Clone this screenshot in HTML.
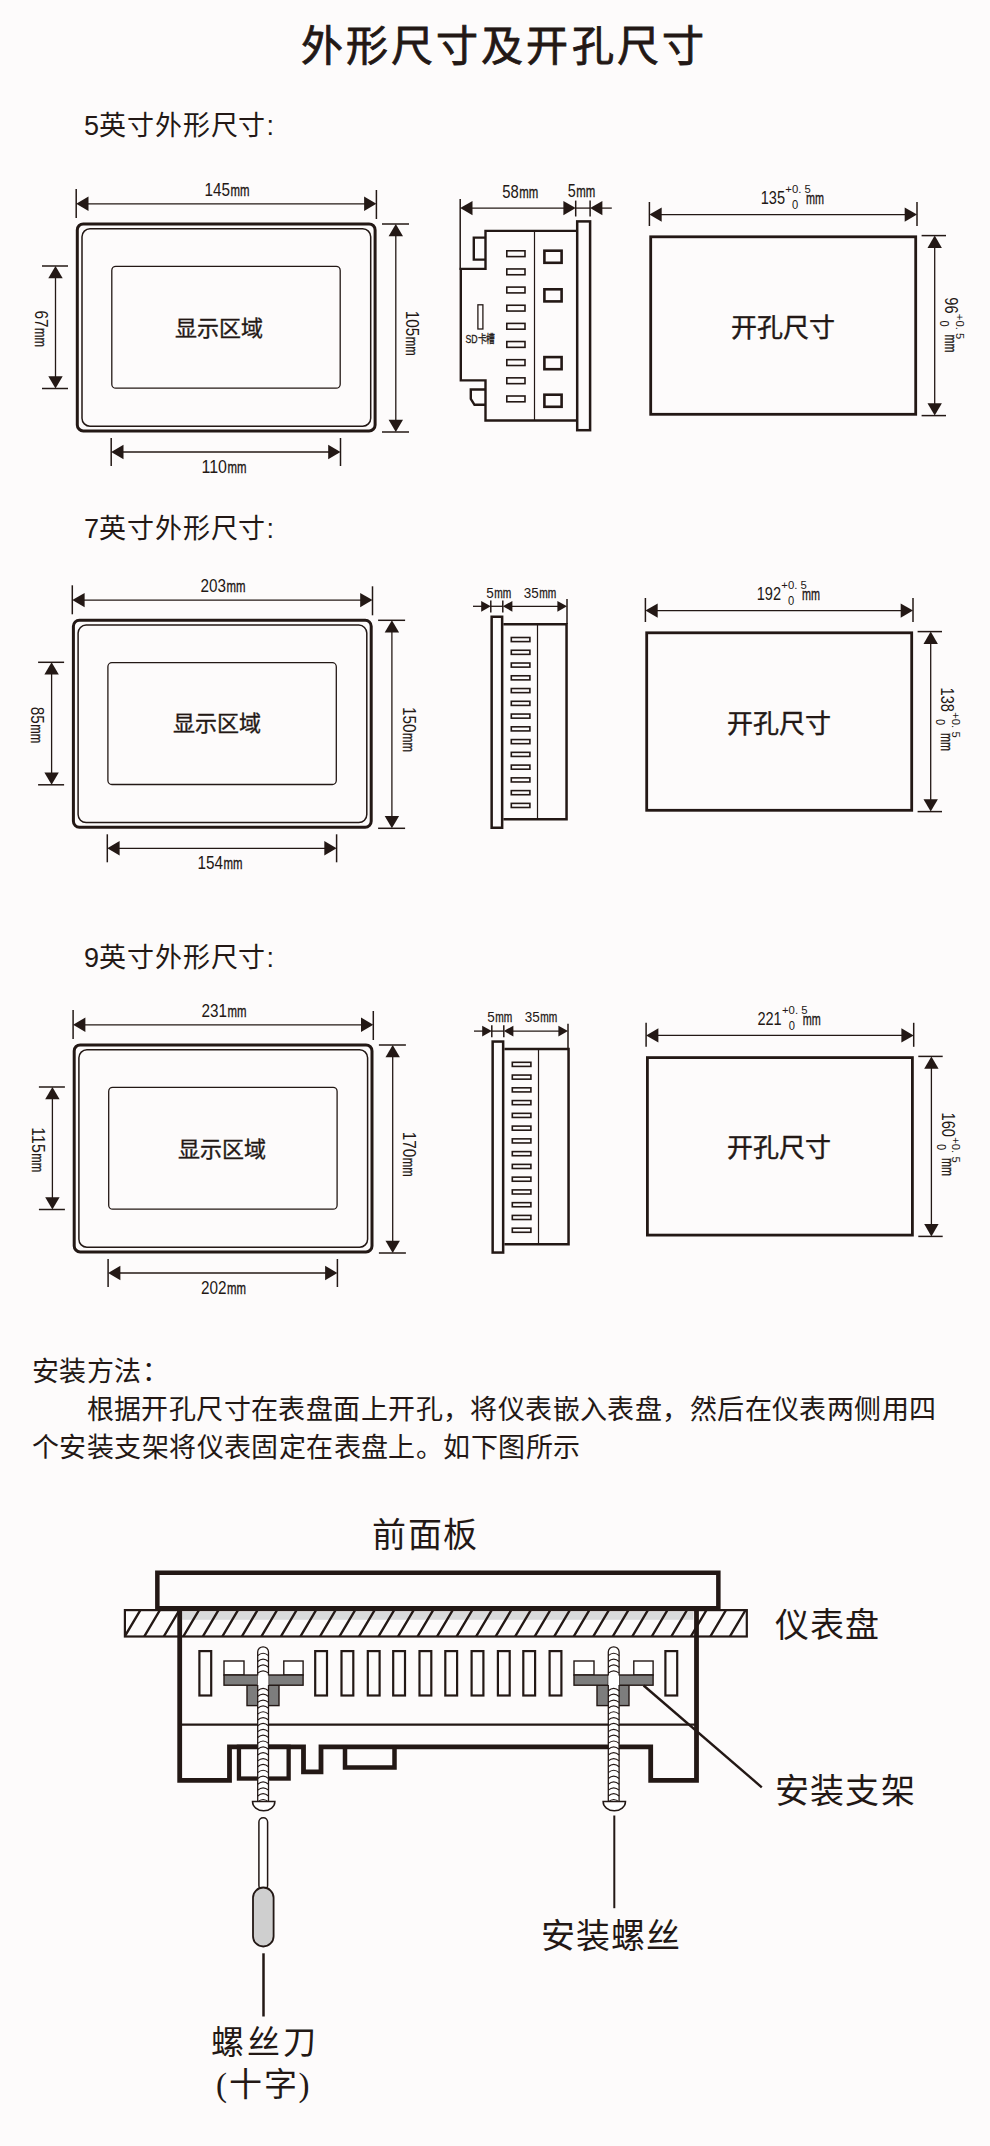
<!DOCTYPE html>
<html lang="zh-CN"><head><meta charset="utf-8"><style>
html,body{margin:0;padding:0;background:#fdfbfb;}
svg{display:block;}
</style></head><body>
<svg width="990" height="2146" viewBox="0 0 990 2146" stroke="#231815" fill="none">
<rect x="0" y="0" width="990" height="2146" fill="#fdfbfb" stroke="none"/>
<text x="300.50" y="60.50" font-size="42" text-anchor="start" font-weight="normal" font-family="Liberation Sans, sans-serif" fill="#231815"  letter-spacing="3.2" stroke="#231815" stroke-width="0.8">外形尺寸及开孔尺寸</text>
<text x="84.00" y="135.00" font-size="27" text-anchor="start" font-weight="normal" font-family="Liberation Sans, sans-serif" fill="#231815" stroke="none" >5</text>
<text x="99.00" y="135.00" font-size="27" text-anchor="start" font-weight="normal" font-family="Liberation Sans, sans-serif" fill="#231815" stroke="none" letter-spacing="0.9">英寸外形尺寸</text>
<text x="266.50" y="135.00" font-size="27" text-anchor="start" font-weight="normal" font-family="Liberation Sans, sans-serif" fill="#231815" stroke="none" >:</text>
<text x="84.00" y="538.00" font-size="27" text-anchor="start" font-weight="normal" font-family="Liberation Sans, sans-serif" fill="#231815" stroke="none" >7</text>
<text x="99.00" y="538.00" font-size="27" text-anchor="start" font-weight="normal" font-family="Liberation Sans, sans-serif" fill="#231815" stroke="none" letter-spacing="0.9">英寸外形尺寸</text>
<text x="266.50" y="538.00" font-size="27" text-anchor="start" font-weight="normal" font-family="Liberation Sans, sans-serif" fill="#231815" stroke="none" >:</text>
<text x="84.00" y="967.00" font-size="27" text-anchor="start" font-weight="normal" font-family="Liberation Sans, sans-serif" fill="#231815" stroke="none" >9</text>
<text x="99.00" y="967.00" font-size="27" text-anchor="start" font-weight="normal" font-family="Liberation Sans, sans-serif" fill="#231815" stroke="none" letter-spacing="0.9">英寸外形尺寸</text>
<text x="266.50" y="967.00" font-size="27" text-anchor="start" font-weight="normal" font-family="Liberation Sans, sans-serif" fill="#231815" stroke="none" >:</text>
<line x1="76.20" y1="189.00" x2="76.20" y2="218.00" stroke-width="1.5"/>
<line x1="376.40" y1="190.00" x2="376.40" y2="219.00" stroke-width="1.5"/>
<line x1="82.20" y1="203.80" x2="370.40" y2="203.80" stroke-width="1.3"/>
<polygon fill="#231815" stroke="none" points="76.20,203.80 88.50,196.60 88.50,211.00"/>
<polygon fill="#231815" stroke="none" points="376.40,203.80 364.10,196.60 364.10,211.00"/>
<g transform="translate(227.00,195.60)" fill="#231815" stroke="none" font-family="Liberation Sans, sans-serif"><text x="-22.50" y="0" font-size="17.6" textLength="25.50" lengthAdjust="spacingAndGlyphs">145</text><text x="3.50" y="0" font-size="16.5" stroke="#231815" stroke-width="0.35" textLength="19.00" lengthAdjust="spacingAndGlyphs">mm</text></g>
<rect x="77.30" y="223.90" width="297.80" height="207.00" rx="6" stroke-width="3" fill="none"/>
<rect x="82.00" y="228.80" width="288.70" height="197.40" rx="8" stroke-width="1.5" fill="none"/>
<rect x="111.80" y="266.40" width="228.40" height="121.80" rx="4" stroke-width="1.3" fill="none"/>
<line x1="382.00" y1="224.00" x2="409.00" y2="224.00" stroke-width="1.5"/>
<line x1="382.00" y1="432.00" x2="409.00" y2="432.00" stroke-width="1.5"/>
<line x1="395.80" y1="230.00" x2="395.80" y2="426.00" stroke-width="1.3"/>
<polygon fill="#231815" stroke="none" points="395.80,224.00 388.60,236.30 403.00,236.30"/>
<polygon fill="#231815" stroke="none" points="395.80,432.00 388.60,419.70 403.00,419.70"/>
<g transform="translate(406.40,333.20) rotate(90)" fill="#231815" stroke="none" font-family="Liberation Sans, sans-serif"><text x="-22.50" y="0" font-size="17.6" textLength="25.50" lengthAdjust="spacingAndGlyphs">105</text><text x="3.50" y="0" font-size="16.5" stroke="#231815" stroke-width="0.35" textLength="19.00" lengthAdjust="spacingAndGlyphs">mm</text></g>
<line x1="42.00" y1="266.00" x2="68.00" y2="266.00" stroke-width="1.5"/>
<line x1="42.00" y1="388.50" x2="68.00" y2="388.50" stroke-width="1.5"/>
<line x1="55.50" y1="272.00" x2="55.50" y2="382.50" stroke-width="1.3"/>
<polygon fill="#231815" stroke="none" points="55.50,266.00 48.30,278.30 62.70,278.30"/>
<polygon fill="#231815" stroke="none" points="55.50,388.50 48.30,376.20 62.70,376.20"/>
<g transform="translate(35.00,328.80) rotate(90)" fill="#231815" stroke="none" font-family="Liberation Sans, sans-serif"><text x="-18.25" y="0" font-size="17.6" textLength="17.00" lengthAdjust="spacingAndGlyphs">67</text><text x="-0.75" y="0" font-size="16.5" stroke="#231815" stroke-width="0.35" textLength="19.00" lengthAdjust="spacingAndGlyphs">mm</text></g>
<line x1="111.20" y1="438.00" x2="111.20" y2="466.00" stroke-width="1.5"/>
<line x1="340.50" y1="438.00" x2="340.50" y2="466.00" stroke-width="1.5"/>
<line x1="117.20" y1="452.00" x2="334.50" y2="452.00" stroke-width="1.3"/>
<polygon fill="#231815" stroke="none" points="111.20,452.00 123.50,444.80 123.50,459.20"/>
<polygon fill="#231815" stroke="none" points="340.50,452.00 328.20,444.80 328.20,459.20"/>
<g transform="translate(224.00,472.80)" fill="#231815" stroke="none" font-family="Liberation Sans, sans-serif"><text x="-22.50" y="0" font-size="17.6" textLength="25.50" lengthAdjust="spacingAndGlyphs">110</text><text x="3.50" y="0" font-size="16.5" stroke="#231815" stroke-width="0.35" textLength="19.00" lengthAdjust="spacingAndGlyphs">mm</text></g>
<text x="218.50" y="336.00" font-size="22" text-anchor="middle" font-weight="normal" font-family="Liberation Serif, serif" fill="#231815"  stroke="#231815" stroke-width="0.35">显示区域</text>
<line x1="72.30" y1="585.30" x2="72.30" y2="614.30" stroke-width="1.5"/>
<line x1="372.50" y1="586.30" x2="372.50" y2="615.30" stroke-width="1.5"/>
<line x1="78.30" y1="600.10" x2="366.50" y2="600.10" stroke-width="1.3"/>
<polygon fill="#231815" stroke="none" points="72.30,600.10 84.60,592.90 84.60,607.30"/>
<polygon fill="#231815" stroke="none" points="372.50,600.10 360.20,592.90 360.20,607.30"/>
<g transform="translate(223.10,591.90)" fill="#231815" stroke="none" font-family="Liberation Sans, sans-serif"><text x="-22.50" y="0" font-size="17.6" textLength="25.50" lengthAdjust="spacingAndGlyphs">203</text><text x="3.50" y="0" font-size="16.5" stroke="#231815" stroke-width="0.35" textLength="19.00" lengthAdjust="spacingAndGlyphs">mm</text></g>
<rect x="73.40" y="620.20" width="297.80" height="207.00" rx="6" stroke-width="3" fill="none"/>
<rect x="78.10" y="625.10" width="288.70" height="197.40" rx="8" stroke-width="1.5" fill="none"/>
<rect x="107.90" y="662.70" width="228.40" height="121.80" rx="4" stroke-width="1.3" fill="none"/>
<line x1="378.10" y1="620.30" x2="405.10" y2="620.30" stroke-width="1.5"/>
<line x1="378.10" y1="828.30" x2="405.10" y2="828.30" stroke-width="1.5"/>
<line x1="391.90" y1="626.30" x2="391.90" y2="822.30" stroke-width="1.3"/>
<polygon fill="#231815" stroke="none" points="391.90,620.30 384.70,632.60 399.10,632.60"/>
<polygon fill="#231815" stroke="none" points="391.90,828.30 384.70,816.00 399.10,816.00"/>
<g transform="translate(402.50,729.50) rotate(90)" fill="#231815" stroke="none" font-family="Liberation Sans, sans-serif"><text x="-22.50" y="0" font-size="17.6" textLength="25.50" lengthAdjust="spacingAndGlyphs">150</text><text x="3.50" y="0" font-size="16.5" stroke="#231815" stroke-width="0.35" textLength="19.00" lengthAdjust="spacingAndGlyphs">mm</text></g>
<line x1="38.10" y1="662.30" x2="64.10" y2="662.30" stroke-width="1.5"/>
<line x1="38.10" y1="784.80" x2="64.10" y2="784.80" stroke-width="1.5"/>
<line x1="51.60" y1="668.30" x2="51.60" y2="778.80" stroke-width="1.3"/>
<polygon fill="#231815" stroke="none" points="51.60,662.30 44.40,674.60 58.80,674.60"/>
<polygon fill="#231815" stroke="none" points="51.60,784.80 44.40,772.50 58.80,772.50"/>
<g transform="translate(31.10,725.10) rotate(90)" fill="#231815" stroke="none" font-family="Liberation Sans, sans-serif"><text x="-18.25" y="0" font-size="17.6" textLength="17.00" lengthAdjust="spacingAndGlyphs">85</text><text x="-0.75" y="0" font-size="16.5" stroke="#231815" stroke-width="0.35" textLength="19.00" lengthAdjust="spacingAndGlyphs">mm</text></g>
<line x1="107.30" y1="834.30" x2="107.30" y2="862.30" stroke-width="1.5"/>
<line x1="336.60" y1="834.30" x2="336.60" y2="862.30" stroke-width="1.5"/>
<line x1="113.30" y1="848.30" x2="330.60" y2="848.30" stroke-width="1.3"/>
<polygon fill="#231815" stroke="none" points="107.30,848.30 119.60,841.10 119.60,855.50"/>
<polygon fill="#231815" stroke="none" points="336.60,848.30 324.30,841.10 324.30,855.50"/>
<g transform="translate(220.10,869.10)" fill="#231815" stroke="none" font-family="Liberation Sans, sans-serif"><text x="-22.50" y="0" font-size="17.6" textLength="25.50" lengthAdjust="spacingAndGlyphs">154</text><text x="3.50" y="0" font-size="16.5" stroke="#231815" stroke-width="0.35" textLength="19.00" lengthAdjust="spacingAndGlyphs">mm</text></g>
<text x="216.50" y="730.80" font-size="22" text-anchor="middle" font-weight="normal" font-family="Liberation Serif, serif" fill="#231815"  stroke="#231815" stroke-width="0.35">显示区域</text>
<line x1="73.10" y1="1010.00" x2="73.10" y2="1039.00" stroke-width="1.5"/>
<line x1="373.30" y1="1011.00" x2="373.30" y2="1040.00" stroke-width="1.5"/>
<line x1="79.10" y1="1024.80" x2="367.30" y2="1024.80" stroke-width="1.3"/>
<polygon fill="#231815" stroke="none" points="73.10,1024.80 85.40,1017.60 85.40,1032.00"/>
<polygon fill="#231815" stroke="none" points="373.30,1024.80 361.00,1017.60 361.00,1032.00"/>
<g transform="translate(223.90,1016.60)" fill="#231815" stroke="none" font-family="Liberation Sans, sans-serif"><text x="-22.50" y="0" font-size="17.6" textLength="25.50" lengthAdjust="spacingAndGlyphs">231</text><text x="3.50" y="0" font-size="16.5" stroke="#231815" stroke-width="0.35" textLength="19.00" lengthAdjust="spacingAndGlyphs">mm</text></g>
<rect x="74.20" y="1044.90" width="297.80" height="207.00" rx="6" stroke-width="3" fill="none"/>
<rect x="78.90" y="1049.80" width="288.70" height="197.40" rx="8" stroke-width="1.5" fill="none"/>
<rect x="108.70" y="1087.40" width="228.40" height="121.80" rx="4" stroke-width="1.3" fill="none"/>
<line x1="378.90" y1="1045.00" x2="405.90" y2="1045.00" stroke-width="1.5"/>
<line x1="378.90" y1="1253.00" x2="405.90" y2="1253.00" stroke-width="1.5"/>
<line x1="392.70" y1="1051.00" x2="392.70" y2="1247.00" stroke-width="1.3"/>
<polygon fill="#231815" stroke="none" points="392.70,1045.00 385.50,1057.30 399.90,1057.30"/>
<polygon fill="#231815" stroke="none" points="392.70,1253.00 385.50,1240.70 399.90,1240.70"/>
<g transform="translate(403.30,1154.20) rotate(90)" fill="#231815" stroke="none" font-family="Liberation Sans, sans-serif"><text x="-22.50" y="0" font-size="17.6" textLength="25.50" lengthAdjust="spacingAndGlyphs">170</text><text x="3.50" y="0" font-size="16.5" stroke="#231815" stroke-width="0.35" textLength="19.00" lengthAdjust="spacingAndGlyphs">mm</text></g>
<line x1="38.90" y1="1087.00" x2="64.90" y2="1087.00" stroke-width="1.5"/>
<line x1="38.90" y1="1209.50" x2="64.90" y2="1209.50" stroke-width="1.5"/>
<line x1="52.40" y1="1093.00" x2="52.40" y2="1203.50" stroke-width="1.3"/>
<polygon fill="#231815" stroke="none" points="52.40,1087.00 45.20,1099.30 59.60,1099.30"/>
<polygon fill="#231815" stroke="none" points="52.40,1209.50 45.20,1197.20 59.60,1197.20"/>
<g transform="translate(31.90,1149.80) rotate(90)" fill="#231815" stroke="none" font-family="Liberation Sans, sans-serif"><text x="-22.50" y="0" font-size="17.6" textLength="25.50" lengthAdjust="spacingAndGlyphs">115</text><text x="3.50" y="0" font-size="16.5" stroke="#231815" stroke-width="0.35" textLength="19.00" lengthAdjust="spacingAndGlyphs">mm</text></g>
<line x1="108.10" y1="1259.00" x2="108.10" y2="1287.00" stroke-width="1.5"/>
<line x1="337.40" y1="1259.00" x2="337.40" y2="1287.00" stroke-width="1.5"/>
<line x1="114.10" y1="1273.00" x2="331.40" y2="1273.00" stroke-width="1.3"/>
<polygon fill="#231815" stroke="none" points="108.10,1273.00 120.40,1265.80 120.40,1280.20"/>
<polygon fill="#231815" stroke="none" points="337.40,1273.00 325.10,1265.80 325.10,1280.20"/>
<g transform="translate(223.40,1293.80)" fill="#231815" stroke="none" font-family="Liberation Sans, sans-serif"><text x="-22.50" y="0" font-size="17.6" textLength="25.50" lengthAdjust="spacingAndGlyphs">202</text><text x="3.50" y="0" font-size="16.5" stroke="#231815" stroke-width="0.35" textLength="19.00" lengthAdjust="spacingAndGlyphs">mm</text></g>
<text x="221.60" y="1157.00" font-size="22" text-anchor="middle" font-weight="normal" font-family="Liberation Serif, serif" fill="#231815"  stroke="#231815" stroke-width="0.35">显示区域</text>
<rect x="650.70" y="236.80" width="265.00" height="177.50" rx="0" stroke-width="2.8" fill="none"/>
<line x1="649.40" y1="202.00" x2="649.40" y2="226.00" stroke-width="1.5"/>
<line x1="917.00" y1="202.00" x2="917.00" y2="226.00" stroke-width="1.5"/>
<line x1="655.40" y1="214.60" x2="911.00" y2="214.60" stroke-width="1.3"/>
<polygon fill="#231815" stroke="none" points="649.40,214.60 661.70,207.40 661.70,221.80"/>
<polygon fill="#231815" stroke="none" points="917.00,214.60 904.70,207.40 904.70,221.80"/>
<g transform="translate(760.70,203.80)" fill="#231815" stroke="none" font-family="Liberation Sans, sans-serif"><text x="0" y="0" font-size="17.6" textLength="24.30" lengthAdjust="spacingAndGlyphs">135</text><text x="24.60" y="-10.5" font-size="11" textLength="25.5" lengthAdjust="spacingAndGlyphs">+0. 5</text><text x="31.30" y="5" font-size="12.5" textLength="6.2" lengthAdjust="spacingAndGlyphs">0</text><text x="45.30" y="0" font-size="16.5" stroke="#231815" stroke-width="0.35" textLength="18" lengthAdjust="spacingAndGlyphs">mm</text></g>
<line x1="921.60" y1="235.60" x2="946.00" y2="235.60" stroke-width="1.5"/>
<line x1="921.60" y1="415.60" x2="946.00" y2="415.60" stroke-width="1.5"/>
<line x1="934.70" y1="241.60" x2="934.70" y2="409.60" stroke-width="1.3"/>
<polygon fill="#231815" stroke="none" points="934.70,235.60 927.50,247.90 941.90,247.90"/>
<polygon fill="#231815" stroke="none" points="934.70,415.60 927.50,403.30 941.90,403.30"/>
<g transform="translate(945.00,297.30) rotate(90)" fill="#231815" stroke="none" font-family="Liberation Sans, sans-serif"><text x="0" y="0" font-size="17.6" textLength="16.20" lengthAdjust="spacingAndGlyphs">96</text><text x="16.50" y="-10.5" font-size="11" textLength="25.5" lengthAdjust="spacingAndGlyphs">+0. 5</text><text x="23.20" y="5" font-size="12.5" textLength="6.2" lengthAdjust="spacingAndGlyphs">0</text><text x="37.20" y="0" font-size="16.5" stroke="#231815" stroke-width="0.35" textLength="18" lengthAdjust="spacingAndGlyphs">mm</text></g>
<text x="782.50" y="336.50" font-size="26" text-anchor="middle" font-weight="normal" font-family="Liberation Serif, serif" fill="#231815"  stroke="#231815" stroke-width="0.4">开孔尺寸</text>
<rect x="646.70" y="632.80" width="265.00" height="177.50" rx="0" stroke-width="2.8" fill="none"/>
<line x1="645.40" y1="598.00" x2="645.40" y2="622.00" stroke-width="1.5"/>
<line x1="913.00" y1="598.00" x2="913.00" y2="622.00" stroke-width="1.5"/>
<line x1="651.40" y1="610.60" x2="907.00" y2="610.60" stroke-width="1.3"/>
<polygon fill="#231815" stroke="none" points="645.40,610.60 657.70,603.40 657.70,617.80"/>
<polygon fill="#231815" stroke="none" points="913.00,610.60 900.70,603.40 900.70,617.80"/>
<g transform="translate(756.70,599.80)" fill="#231815" stroke="none" font-family="Liberation Sans, sans-serif"><text x="0" y="0" font-size="17.6" textLength="24.30" lengthAdjust="spacingAndGlyphs">192</text><text x="24.60" y="-10.5" font-size="11" textLength="25.5" lengthAdjust="spacingAndGlyphs">+0. 5</text><text x="31.30" y="5" font-size="12.5" textLength="6.2" lengthAdjust="spacingAndGlyphs">0</text><text x="45.30" y="0" font-size="16.5" stroke="#231815" stroke-width="0.35" textLength="18" lengthAdjust="spacingAndGlyphs">mm</text></g>
<line x1="917.60" y1="631.60" x2="942.00" y2="631.60" stroke-width="1.5"/>
<line x1="917.60" y1="811.60" x2="942.00" y2="811.60" stroke-width="1.5"/>
<line x1="930.70" y1="637.60" x2="930.70" y2="805.60" stroke-width="1.3"/>
<polygon fill="#231815" stroke="none" points="930.70,631.60 923.50,643.90 937.90,643.90"/>
<polygon fill="#231815" stroke="none" points="930.70,811.60 923.50,799.30 937.90,799.30"/>
<g transform="translate(941.00,687.60) rotate(90)" fill="#231815" stroke="none" font-family="Liberation Sans, sans-serif"><text x="0" y="0" font-size="17.6" textLength="24.30" lengthAdjust="spacingAndGlyphs">138</text><text x="24.60" y="-10.5" font-size="11" textLength="25.5" lengthAdjust="spacingAndGlyphs">+0. 5</text><text x="31.30" y="5" font-size="12.5" textLength="6.2" lengthAdjust="spacingAndGlyphs">0</text><text x="45.30" y="0" font-size="16.5" stroke="#231815" stroke-width="0.35" textLength="18" lengthAdjust="spacingAndGlyphs">mm</text></g>
<text x="778.50" y="732.50" font-size="26" text-anchor="middle" font-weight="normal" font-family="Liberation Serif, serif" fill="#231815"  stroke="#231815" stroke-width="0.4">开孔尺寸</text>
<rect x="647.40" y="1057.60" width="265.00" height="177.50" rx="0" stroke-width="2.8" fill="none"/>
<line x1="646.10" y1="1022.80" x2="646.10" y2="1046.80" stroke-width="1.5"/>
<line x1="913.70" y1="1022.80" x2="913.70" y2="1046.80" stroke-width="1.5"/>
<line x1="652.10" y1="1035.40" x2="907.70" y2="1035.40" stroke-width="1.3"/>
<polygon fill="#231815" stroke="none" points="646.10,1035.40 658.40,1028.20 658.40,1042.60"/>
<polygon fill="#231815" stroke="none" points="913.70,1035.40 901.40,1028.20 901.40,1042.60"/>
<g transform="translate(757.40,1024.60)" fill="#231815" stroke="none" font-family="Liberation Sans, sans-serif"><text x="0" y="0" font-size="17.6" textLength="24.30" lengthAdjust="spacingAndGlyphs">221</text><text x="24.60" y="-10.5" font-size="11" textLength="25.5" lengthAdjust="spacingAndGlyphs">+0. 5</text><text x="31.30" y="5" font-size="12.5" textLength="6.2" lengthAdjust="spacingAndGlyphs">0</text><text x="45.30" y="0" font-size="16.5" stroke="#231815" stroke-width="0.35" textLength="18" lengthAdjust="spacingAndGlyphs">mm</text></g>
<line x1="918.30" y1="1056.40" x2="942.70" y2="1056.40" stroke-width="1.5"/>
<line x1="918.30" y1="1236.40" x2="942.70" y2="1236.40" stroke-width="1.5"/>
<line x1="931.40" y1="1062.40" x2="931.40" y2="1230.40" stroke-width="1.3"/>
<polygon fill="#231815" stroke="none" points="931.40,1056.40 924.20,1068.70 938.60,1068.70"/>
<polygon fill="#231815" stroke="none" points="931.40,1236.40 924.20,1224.10 938.60,1224.10"/>
<g transform="translate(941.70,1112.60) rotate(90)" fill="#231815" stroke="none" font-family="Liberation Sans, sans-serif"><text x="0" y="0" font-size="17.6" textLength="24.30" lengthAdjust="spacingAndGlyphs">160</text><text x="24.60" y="-10.5" font-size="11" textLength="25.5" lengthAdjust="spacingAndGlyphs">+0. 5</text><text x="31.30" y="5" font-size="12.5" textLength="6.2" lengthAdjust="spacingAndGlyphs">0</text><text x="45.30" y="0" font-size="16.5" stroke="#231815" stroke-width="0.35" textLength="18" lengthAdjust="spacingAndGlyphs">mm</text></g>
<text x="779.20" y="1157.30" font-size="26" text-anchor="middle" font-weight="normal" font-family="Liberation Serif, serif" fill="#231815"  stroke="#231815" stroke-width="0.4">开孔尺寸</text>
<line x1="460.20" y1="199.00" x2="460.20" y2="270.00" stroke-width="1.5"/>
<line x1="466.20" y1="208.10" x2="569.70" y2="208.10" stroke-width="1.3"/>
<polygon fill="#231815" stroke="none" points="460.20,208.10 472.50,200.90 472.50,215.30"/>
<polygon fill="#231815" stroke="none" points="575.70,208.10 563.40,200.90 563.40,215.30"/>
<line x1="575.70" y1="200.60" x2="575.70" y2="216.50" stroke-width="1.5"/>
<line x1="590.10" y1="200.60" x2="590.10" y2="216.50" stroke-width="1.5"/>
<line x1="575.70" y1="208.10" x2="590.10" y2="208.10" stroke-width="1.3"/>
<polygon fill="#231815" stroke="none" points="590.10,208.10 602.40,200.90 602.40,215.30"/>
<line x1="596.00" y1="208.10" x2="611.80" y2="208.10" stroke-width="1.3"/>
<g transform="translate(520.30,198.00)" fill="#231815" stroke="none" font-family="Liberation Sans, sans-serif"><text x="-18.00" y="0" font-size="17.6" textLength="16.50" lengthAdjust="spacingAndGlyphs">58</text><text x="-1.00" y="0" font-size="16.5" stroke="#231815" stroke-width="0.35" textLength="19.00" lengthAdjust="spacingAndGlyphs">mm</text></g>
<g transform="translate(581.50,197.40)" fill="#231815" stroke="none" font-family="Liberation Sans, sans-serif"><text x="-13.75" y="0" font-size="17.6" textLength="8.00" lengthAdjust="spacingAndGlyphs">5</text><text x="-5.25" y="0" font-size="16.5" stroke="#231815" stroke-width="0.35" textLength="19.00" lengthAdjust="spacingAndGlyphs">mm</text></g>
<path d="M576.5 230.9 L485.5 230.9 L485.5 268.9 L460.8 268.9 L460.8 380.4 L485.5 380.4 L485.5 420.5 L576.5 420.5" stroke-width="2.4"/>
<path d="M485.5 237.6 L473.8 237.6 L473.8 259.6 L485.5 259.6" stroke-width="2.4"/>
<path d="M485.5 389.5 L470.8 389.5 L470.8 398.8 L474.5 404.8 L485.5 404.8" stroke-width="2.4"/>
<rect x="577.20" y="221.40" width="12.90" height="208.80" rx="0" stroke-width="2.5" fill="none"/>
<line x1="534.50" y1="230.90" x2="534.50" y2="420.50" stroke-width="1.2"/>
<rect x="506.80" y="250.80" width="18.20" height="5.80" rx="0" stroke-width="1.6" fill="none"/>
<rect x="506.80" y="268.95" width="18.20" height="5.80" rx="0" stroke-width="1.6" fill="none"/>
<rect x="506.80" y="287.10" width="18.20" height="5.80" rx="0" stroke-width="1.6" fill="none"/>
<rect x="506.80" y="305.25" width="18.20" height="5.80" rx="0" stroke-width="1.6" fill="none"/>
<rect x="506.80" y="323.40" width="18.20" height="5.80" rx="0" stroke-width="1.6" fill="none"/>
<rect x="506.80" y="341.55" width="18.20" height="5.80" rx="0" stroke-width="1.6" fill="none"/>
<rect x="506.80" y="359.70" width="18.20" height="5.80" rx="0" stroke-width="1.6" fill="none"/>
<rect x="506.80" y="377.85" width="18.20" height="5.80" rx="0" stroke-width="1.6" fill="none"/>
<rect x="506.80" y="396.00" width="18.20" height="5.80" rx="0" stroke-width="1.6" fill="none"/>
<rect x="544.40" y="250.70" width="17.20" height="12.10" rx="0" stroke-width="2.6" fill="none"/>
<rect x="544.40" y="289.30" width="17.20" height="12.10" rx="0" stroke-width="2.6" fill="none"/>
<rect x="544.40" y="357.10" width="17.20" height="12.10" rx="0" stroke-width="2.6" fill="none"/>
<rect x="544.40" y="394.70" width="17.20" height="12.10" rx="0" stroke-width="2.6" fill="none"/>
<rect x="477.90" y="304.80" width="5.00" height="24.20" rx="0" stroke-width="1.3" fill="none"/>
<text x="480.4" y="343.2" font-size="11.8" text-anchor="middle" font-family="Liberation Sans, sans-serif" fill="#231815" stroke="#231815" stroke-width="0.3" textLength="30" lengthAdjust="spacingAndGlyphs">SD卡槽</text>
<line x1="473.00" y1="606.30" x2="484.80" y2="606.30" stroke-width="1.3"/>
<polygon fill="#231815" stroke="none" points="490.80,606.30 481.20,600.90 481.20,611.70"/>
<line x1="490.80" y1="600.40" x2="490.80" y2="612.40" stroke-width="1.5"/>
<line x1="502.80" y1="600.40" x2="502.80" y2="612.40" stroke-width="1.5"/>
<line x1="490.80" y1="606.30" x2="502.80" y2="606.30" stroke-width="1.3"/>
<line x1="508.80" y1="606.30" x2="561.00" y2="606.30" stroke-width="1.3"/>
<polygon fill="#231815" stroke="none" points="502.80,606.30 512.40,600.90 512.40,611.70"/>
<polygon fill="#231815" stroke="none" points="567.00,606.30 557.40,600.90 557.40,611.70"/>
<line x1="567.00" y1="599.00" x2="567.00" y2="624.00" stroke-width="1.5"/>
<g transform="translate(498.70,597.60)" fill="#231815" stroke="none" font-family="Liberation Sans, sans-serif"><text x="-12.50" y="0" font-size="15.2" textLength="7.50" lengthAdjust="spacingAndGlyphs">5</text><text x="-4.50" y="0" font-size="14.5" stroke="#231815" stroke-width="0.35" textLength="17.00" lengthAdjust="spacingAndGlyphs">mm</text></g>
<g transform="translate(540.00,597.60)" fill="#231815" stroke="none" font-family="Liberation Sans, sans-serif"><text x="-16.25" y="0" font-size="15.2" textLength="15.00" lengthAdjust="spacingAndGlyphs">35</text><text x="-0.75" y="0" font-size="14.5" stroke="#231815" stroke-width="0.35" textLength="17.00" lengthAdjust="spacingAndGlyphs">mm</text></g>
<rect x="491.65" y="616.75" width="10.50" height="211.00" rx="0" stroke-width="2.5" fill="none"/>
<path d="M503.4 624.25 L566.55 624.25 L566.55 819.35 L503.4 819.35" transform="translate(0,0)" stroke-width="2.5"/>
<line x1="537.50" y1="624.25" x2="537.50" y2="819.35" stroke-width="1.2"/>
<rect x="511.30" y="637.50" width="18.60" height="4.10" rx="0" stroke-width="1.6" fill="none"/>
<rect x="511.30" y="650.26" width="18.60" height="4.10" rx="0" stroke-width="1.6" fill="none"/>
<rect x="511.30" y="663.02" width="18.60" height="4.10" rx="0" stroke-width="1.6" fill="none"/>
<rect x="511.30" y="675.78" width="18.60" height="4.10" rx="0" stroke-width="1.6" fill="none"/>
<rect x="511.30" y="688.54" width="18.60" height="4.10" rx="0" stroke-width="1.6" fill="none"/>
<rect x="511.30" y="701.30" width="18.60" height="4.10" rx="0" stroke-width="1.6" fill="none"/>
<rect x="511.30" y="714.06" width="18.60" height="4.10" rx="0" stroke-width="1.6" fill="none"/>
<rect x="511.30" y="726.82" width="18.60" height="4.10" rx="0" stroke-width="1.6" fill="none"/>
<rect x="511.30" y="739.58" width="18.60" height="4.10" rx="0" stroke-width="1.6" fill="none"/>
<rect x="511.30" y="752.34" width="18.60" height="4.10" rx="0" stroke-width="1.6" fill="none"/>
<rect x="511.30" y="765.10" width="18.60" height="4.10" rx="0" stroke-width="1.6" fill="none"/>
<rect x="511.30" y="777.86" width="18.60" height="4.10" rx="0" stroke-width="1.6" fill="none"/>
<rect x="511.30" y="790.62" width="18.60" height="4.10" rx="0" stroke-width="1.6" fill="none"/>
<rect x="511.30" y="803.38" width="18.60" height="4.10" rx="0" stroke-width="1.6" fill="none"/>
<line x1="474.00" y1="1031.10" x2="485.80" y2="1031.10" stroke-width="1.3"/>
<polygon fill="#231815" stroke="none" points="491.80,1031.10 482.20,1025.70 482.20,1036.50"/>
<line x1="491.80" y1="1025.20" x2="491.80" y2="1037.20" stroke-width="1.5"/>
<line x1="503.80" y1="1025.20" x2="503.80" y2="1037.20" stroke-width="1.5"/>
<line x1="491.80" y1="1031.10" x2="503.80" y2="1031.10" stroke-width="1.3"/>
<line x1="509.80" y1="1031.10" x2="562.00" y2="1031.10" stroke-width="1.3"/>
<polygon fill="#231815" stroke="none" points="503.80,1031.10 513.40,1025.70 513.40,1036.50"/>
<polygon fill="#231815" stroke="none" points="568.00,1031.10 558.40,1025.70 558.40,1036.50"/>
<line x1="568.00" y1="1023.80" x2="568.00" y2="1048.80" stroke-width="1.5"/>
<g transform="translate(499.70,1022.40)" fill="#231815" stroke="none" font-family="Liberation Sans, sans-serif"><text x="-12.50" y="0" font-size="15.2" textLength="7.50" lengthAdjust="spacingAndGlyphs">5</text><text x="-4.50" y="0" font-size="14.5" stroke="#231815" stroke-width="0.35" textLength="17.00" lengthAdjust="spacingAndGlyphs">mm</text></g>
<g transform="translate(541.00,1022.40)" fill="#231815" stroke="none" font-family="Liberation Sans, sans-serif"><text x="-16.25" y="0" font-size="15.2" textLength="15.00" lengthAdjust="spacingAndGlyphs">35</text><text x="-0.75" y="0" font-size="14.5" stroke="#231815" stroke-width="0.35" textLength="17.00" lengthAdjust="spacingAndGlyphs">mm</text></g>
<rect x="492.65" y="1041.55" width="10.50" height="211.00" rx="0" stroke-width="2.5" fill="none"/>
<path d="M503.4 1049.05 L567.55 1049.05 L567.55 1244.15 L503.4 1244.15" transform="translate(1,0)" stroke-width="2.5"/>
<line x1="538.50" y1="1049.05" x2="538.50" y2="1244.15" stroke-width="1.2"/>
<rect x="512.30" y="1062.30" width="18.60" height="4.10" rx="0" stroke-width="1.6" fill="none"/>
<rect x="512.30" y="1075.06" width="18.60" height="4.10" rx="0" stroke-width="1.6" fill="none"/>
<rect x="512.30" y="1087.82" width="18.60" height="4.10" rx="0" stroke-width="1.6" fill="none"/>
<rect x="512.30" y="1100.58" width="18.60" height="4.10" rx="0" stroke-width="1.6" fill="none"/>
<rect x="512.30" y="1113.34" width="18.60" height="4.10" rx="0" stroke-width="1.6" fill="none"/>
<rect x="512.30" y="1126.10" width="18.60" height="4.10" rx="0" stroke-width="1.6" fill="none"/>
<rect x="512.30" y="1138.86" width="18.60" height="4.10" rx="0" stroke-width="1.6" fill="none"/>
<rect x="512.30" y="1151.62" width="18.60" height="4.10" rx="0" stroke-width="1.6" fill="none"/>
<rect x="512.30" y="1164.38" width="18.60" height="4.10" rx="0" stroke-width="1.6" fill="none"/>
<rect x="512.30" y="1177.14" width="18.60" height="4.10" rx="0" stroke-width="1.6" fill="none"/>
<rect x="512.30" y="1189.90" width="18.60" height="4.10" rx="0" stroke-width="1.6" fill="none"/>
<rect x="512.30" y="1202.66" width="18.60" height="4.10" rx="0" stroke-width="1.6" fill="none"/>
<rect x="512.30" y="1215.42" width="18.60" height="4.10" rx="0" stroke-width="1.6" fill="none"/>
<rect x="512.30" y="1228.18" width="18.60" height="4.10" rx="0" stroke-width="1.6" fill="none"/>
<g font-family="Liberation Serif, serif" font-size="27" letter-spacing="0.42" fill="#231815" stroke="none">
<text x="32" y="1381">安装方法：</text>
<text x="86.5" y="1419">根据开孔尺寸在表盘面上开孔，将仪表嵌入表盘，然后在仪表两侧用四</text>
<text x="32" y="1457">个安装支架将仪表固定在表盘上。如下图所示</text>
</g>
<rect x="182" y="1612" width="511.5" height="7.8" fill="#d9dadb" stroke="none"/>
<clipPath id="pc"><rect x="124.9" y="1610.1" width="621.9" height="26.4"/></clipPath>
<path clip-path="url(#pc)" d="M104.58 1637.5 L120.98 1610 M124.10 1637.5 L140.50 1610 M143.62 1637.5 L160.02 1610 M163.14 1637.5 L179.54 1610 M182.66 1637.5 L199.06 1610 M202.18 1637.5 L218.58 1610 M221.70 1637.5 L238.10 1610 M241.22 1637.5 L257.62 1610 M260.74 1637.5 L277.14 1610 M280.26 1637.5 L296.66 1610 M299.78 1637.5 L316.18 1610 M319.30 1637.5 L335.70 1610 M338.82 1637.5 L355.22 1610 M358.34 1637.5 L374.74 1610 M377.86 1637.5 L394.26 1610 M397.38 1637.5 L413.78 1610 M416.90 1637.5 L433.30 1610 M436.42 1637.5 L452.82 1610 M455.94 1637.5 L472.34 1610 M475.46 1637.5 L491.86 1610 M494.98 1637.5 L511.38 1610 M514.50 1637.5 L530.90 1610 M534.02 1637.5 L550.42 1610 M553.54 1637.5 L569.94 1610 M573.06 1637.5 L589.46 1610 M592.58 1637.5 L608.98 1610 M612.10 1637.5 L628.50 1610 M631.62 1637.5 L648.02 1610 M651.14 1637.5 L667.54 1610 M670.66 1637.5 L687.06 1610 M690.18 1637.5 L706.58 1610 M709.70 1637.5 L726.10 1610 M729.22 1637.5 L745.62 1610 M748.74 1637.5 L765.14 1610" stroke-width="2.4"/>
<rect x="124.90" y="1610.10" width="621.90" height="26.40" rx="0" stroke-width="2.2" fill="none"/>
<rect x="157.35" y="1572.75" width="561.00" height="35.50" rx="0" stroke-width="4.5" fill="none"/>
<path d="M179.7 1609 L179.7 1780.3 L229.5 1780.3 L229.5 1746.8 L303.5 1746.8 L303.5 1771.9 L321 1771.9 L321 1746.8 L650.7 1746.8 L650.7 1780.3 L696.5 1780.3 L696.5 1609" stroke-width="4.8"/>
<rect x="238.95" y="1746.80" width="49.70" height="31.75" rx="0" stroke-width="4.3" fill="none"/>
<path d="M345 1746.8 L345 1767.5 L394.5 1767.5 L394.5 1746.8" stroke-width="4.5"/>
<line x1="179.70" y1="1724.70" x2="696.50" y2="1724.70" stroke-width="2.3"/>
<rect x="199.40" y="1651.10" width="11.80" height="44.40" rx="0" stroke-width="2.2" fill="none"/>
<rect x="315.20" y="1651.10" width="11.80" height="44.40" rx="0" stroke-width="2.2" fill="none"/>
<rect x="341.50" y="1651.10" width="11.80" height="44.40" rx="0" stroke-width="2.2" fill="none"/>
<rect x="367.80" y="1651.10" width="11.80" height="44.40" rx="0" stroke-width="2.2" fill="none"/>
<rect x="393.20" y="1651.10" width="11.80" height="44.40" rx="0" stroke-width="2.2" fill="none"/>
<rect x="419.50" y="1651.10" width="11.80" height="44.40" rx="0" stroke-width="2.2" fill="none"/>
<rect x="445.30" y="1651.10" width="11.80" height="44.40" rx="0" stroke-width="2.2" fill="none"/>
<rect x="471.60" y="1651.10" width="11.80" height="44.40" rx="0" stroke-width="2.2" fill="none"/>
<rect x="497.90" y="1651.10" width="11.80" height="44.40" rx="0" stroke-width="2.2" fill="none"/>
<rect x="523.30" y="1651.10" width="11.80" height="44.40" rx="0" stroke-width="2.2" fill="none"/>
<rect x="549.60" y="1651.10" width="11.80" height="44.40" rx="0" stroke-width="2.2" fill="none"/>
<rect x="665.40" y="1651.10" width="11.80" height="44.40" rx="0" stroke-width="2.2" fill="none"/>
<g transform="translate(0,0)" stroke-width="1.4">
<rect x="224" y="1661" width="20" height="14" fill="#fff"/>
<rect x="283.8" y="1661" width="19.3" height="14" fill="#fff"/>
<rect x="247" y="1685" width="32" height="20.6" fill="#7d7d7d"/>
<rect x="224" y="1675" width="79.1" height="10.2" fill="#7d7d7d"/>
</g>
<g transform="translate(350,0)" stroke-width="1.4">
<rect x="224" y="1661" width="20" height="14" fill="#fff"/>
<rect x="283.8" y="1661" width="19.3" height="14" fill="#fff"/>
<rect x="247" y="1685" width="32" height="20.6" fill="#7d7d7d"/>
<rect x="224" y="1675" width="79.1" height="10.2" fill="#7d7d7d"/>
</g>
<rect x="257.70" y="1675.5" width="10.80" height="9.5" fill="#fff" stroke="none"/>
<path d="M257.70 1801 L257.70 1652 A5.40 5.2 0 0 1 268.50 1652 L268.50 1801" stroke-width="1.3" fill="#fff"/>
<path d="M257.70 1655.60 Q263.10 1650.90 268.50 1655.60 M257.70 1661.45 Q263.10 1656.75 268.50 1661.45 M257.70 1667.30 Q263.10 1662.60 268.50 1667.30 M257.70 1673.15 Q263.10 1668.45 268.50 1673.15 M257.70 1690.70 Q263.10 1686.00 268.50 1690.70 M257.70 1696.55 Q263.10 1691.85 268.50 1696.55 M257.70 1702.40 Q263.10 1697.70 268.50 1702.40 M257.70 1708.25 Q263.10 1703.55 268.50 1708.25 M257.70 1714.10 Q263.10 1709.40 268.50 1714.10 M257.70 1719.95 Q263.10 1715.25 268.50 1719.95 M257.70 1725.80 Q263.10 1721.10 268.50 1725.80 M257.70 1731.65 Q263.10 1726.95 268.50 1731.65 M257.70 1737.50 Q263.10 1732.80 268.50 1737.50 M257.70 1743.35 Q263.10 1738.65 268.50 1743.35 M257.70 1749.20 Q263.10 1744.50 268.50 1749.20 M257.70 1755.05 Q263.10 1750.35 268.50 1755.05 M257.70 1760.90 Q263.10 1756.20 268.50 1760.90 M257.70 1766.75 Q263.10 1762.05 268.50 1766.75 M257.70 1772.60 Q263.10 1767.90 268.50 1772.60 M257.70 1778.45 Q263.10 1773.75 268.50 1778.45 M257.70 1784.30 Q263.10 1779.60 268.50 1784.30 M257.70 1790.15 Q263.10 1785.45 268.50 1790.15 M257.70 1796.00 Q263.10 1791.30 268.50 1796.00 M257.70 1801.85 Q263.10 1797.15 268.50 1801.85" stroke-width="1.2"/>
<rect x="257.70" y="1675.5" width="10.80" height="9.5" fill="#fff" stroke="none"/>
<path d="M252.50 1801.5 L274.90 1801.5 A11.2 9.3 0 0 1 252.50 1801.5 Z" stroke-width="1.5" fill="#fff"/>
<rect x="608.30" y="1675.5" width="10.80" height="9.5" fill="#fff" stroke="none"/>
<path d="M608.30 1801 L608.30 1652 A5.40 5.2 0 0 1 619.10 1652 L619.10 1801" stroke-width="1.3" fill="#fff"/>
<path d="M608.30 1655.60 Q613.70 1650.90 619.10 1655.60 M608.30 1661.45 Q613.70 1656.75 619.10 1661.45 M608.30 1667.30 Q613.70 1662.60 619.10 1667.30 M608.30 1673.15 Q613.70 1668.45 619.10 1673.15 M608.30 1690.70 Q613.70 1686.00 619.10 1690.70 M608.30 1696.55 Q613.70 1691.85 619.10 1696.55 M608.30 1702.40 Q613.70 1697.70 619.10 1702.40 M608.30 1708.25 Q613.70 1703.55 619.10 1708.25 M608.30 1714.10 Q613.70 1709.40 619.10 1714.10 M608.30 1719.95 Q613.70 1715.25 619.10 1719.95 M608.30 1725.80 Q613.70 1721.10 619.10 1725.80 M608.30 1731.65 Q613.70 1726.95 619.10 1731.65 M608.30 1737.50 Q613.70 1732.80 619.10 1737.50 M608.30 1743.35 Q613.70 1738.65 619.10 1743.35 M608.30 1749.20 Q613.70 1744.50 619.10 1749.20 M608.30 1755.05 Q613.70 1750.35 619.10 1755.05 M608.30 1760.90 Q613.70 1756.20 619.10 1760.90 M608.30 1766.75 Q613.70 1762.05 619.10 1766.75 M608.30 1772.60 Q613.70 1767.90 619.10 1772.60 M608.30 1778.45 Q613.70 1773.75 619.10 1778.45 M608.30 1784.30 Q613.70 1779.60 619.10 1784.30 M608.30 1790.15 Q613.70 1785.45 619.10 1790.15 M608.30 1796.00 Q613.70 1791.30 619.10 1796.00 M608.30 1801.85 Q613.70 1797.15 619.10 1801.85" stroke-width="1.2"/>
<rect x="608.30" y="1675.5" width="10.80" height="9.5" fill="#fff" stroke="none"/>
<path d="M603.10 1801.5 L625.50 1801.5 A11.2 9.3 0 0 1 603.10 1801.5 Z" stroke-width="1.5" fill="#fff"/>
<rect x="258.90" y="1817.70" width="8.70" height="72.00" rx="4.3" stroke-width="1.5" fill="#fff"/>
<rect x="253.00" y="1887.50" width="20.60" height="59.00" rx="10.3" stroke-width="1.8" fill="#cfcfcf"/>
<line x1="263.50" y1="1953.30" x2="263.50" y2="2016.50" stroke-width="2.5"/>
<line x1="614.30" y1="1815.50" x2="614.30" y2="1908.20" stroke-width="2"/>
<line x1="643.60" y1="1685.50" x2="761.80" y2="1787.30" stroke-width="2.4"/>
<g font-family="Liberation Serif, serif" font-size="34" fill="#231815" stroke="none">
<text x="372" y="1546.5" letter-spacing="1.5">前面板</text>
<text x="775" y="1637" letter-spacing="1">仪表盘</text>
<text x="775" y="1803" letter-spacing="1.2">安装支架</text>
<text x="541" y="1948.3" letter-spacing="1">安装螺丝</text>
<text x="211" y="2054" font-size="33" letter-spacing="3.2">螺丝刀</text>
<text x="216" y="2095.5" font-size="33" letter-spacing="1.8">(十字)</text>
</g>
</svg>
</body></html>
